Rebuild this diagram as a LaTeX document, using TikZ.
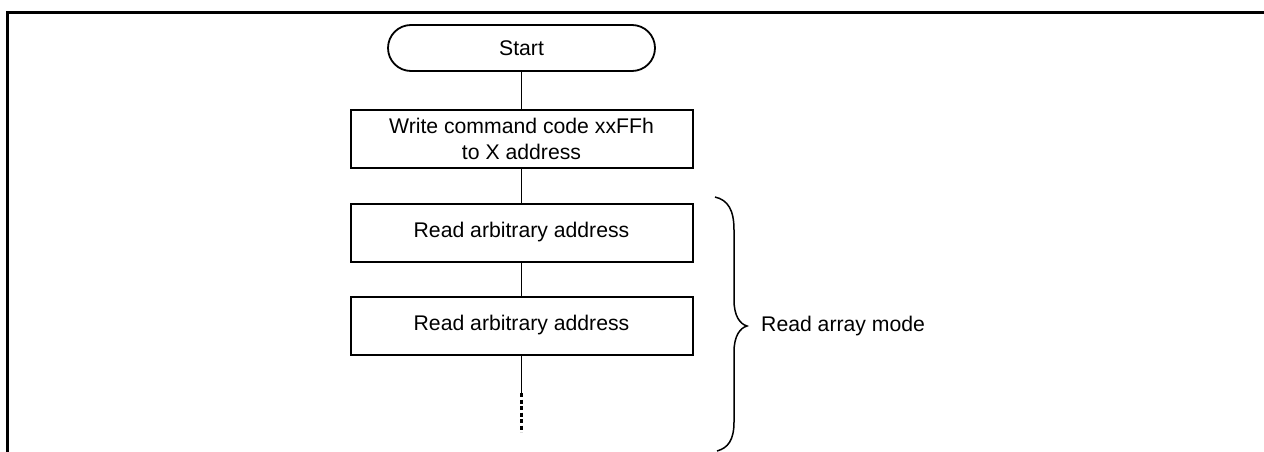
\documentclass[tikz,border=0pt]{standalone}
\usepackage{fontspec}
\setmainfont{Liberation Sans}
\begin{document}
\begin{tikzpicture}[x=1pt,y=-1pt,
  font=\fontsize{21.2}{26}\selectfont,
  procbox/.style={draw,line width=2pt,minimum width=342pt,minimum height=58pt,inner sep=0pt,align=center},
  termbox/.style={draw,line width=1.8pt,rounded corners=23pt,minimum width=267pt,minimum height=46pt,inner sep=0pt},
  conn/.style={line width=1.6pt},
  dotconn/.style={line width=3pt,dash pattern=on 4pt off 2.5pt},
  frameline/.style={line width=3pt},
  bracestyle/.style={line width=1.5pt}]
\useasboundingbox (0,0) rectangle (1264,452);
% frame
\coordinate (fbl) at (7.5,453);
\coordinate (ftl) at (7.5,12.5);
\coordinate (ftr) at (1265,12.5);
\draw[frameline] (fbl) -- (ftl) -- (ftr);
% nodes
\node[termbox] (start) at (521.5,48) {Start};
\node[procbox] (write) at (521.5,139) {Write command code xxFFh\\to X address};
\node[procbox] (read1) at (521.5,232.5) {Read arbitrary address};
\node[procbox] (read2) at (521.5,325.5) {Read arbitrary address};
\coordinate (solidend) at (521.5,393);
\coordinate (dotend) at (521.5,432);
% connectors
\draw[conn] (start) -- (write);
\draw[conn] (write) -- (read1);
\draw[conn] (read1) -- (read2);
\draw[conn] (read2) -- (solidend);
\draw[dotconn] (solidend) -- (dotend);
% brace
\draw[bracestyle] (715,197) .. controls (728,200) and (734,210) .. (734,230) -- (734,300)
  .. controls (734,316) and (740,324) .. (747,326)
  .. controls (740,328) and (734,336) .. (734,352) -- (734,422)
  .. controls (734,440) and (728,448) .. (717,451);
\node[anchor=west,inner sep=0pt] (mode) at (761,326) {Read array mode};
\end{tikzpicture}
\end{document}
